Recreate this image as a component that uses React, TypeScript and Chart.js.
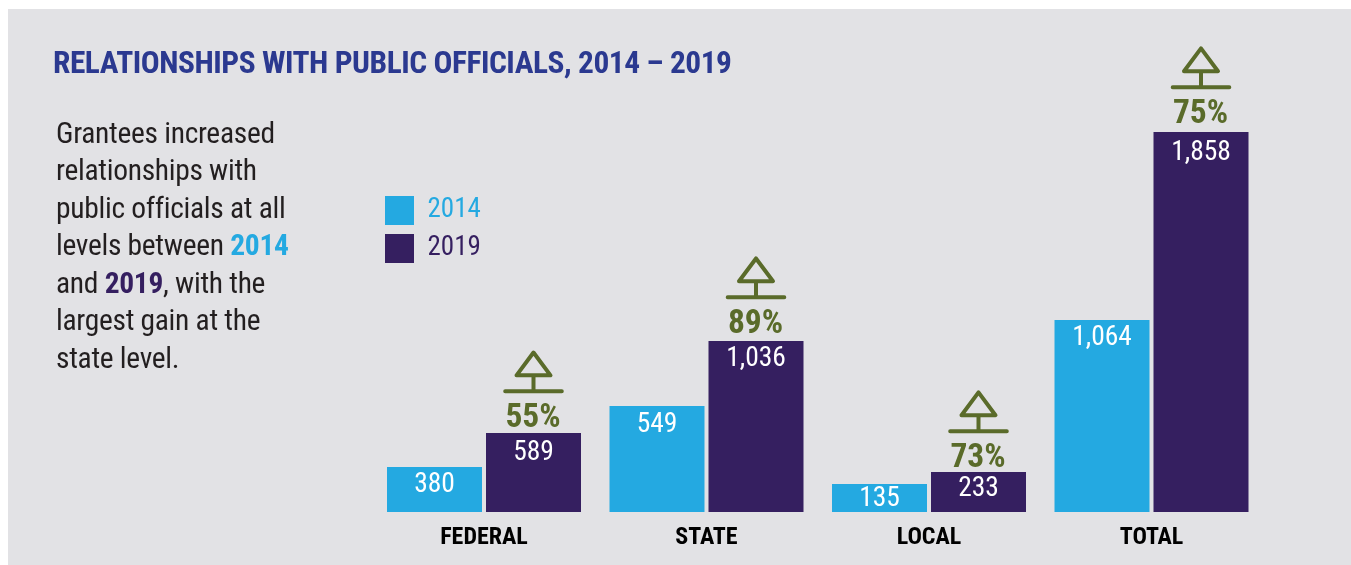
import React, { useEffect, useRef } from "react";
import { Chart, registerables } from "chart.js";

Chart.register(...registerables);

const categories = ["FEDERAL", "STATE", "LOCAL", "TOTAL"];
const seriesNames = ["2014", "2019"];
// Printed figures. The source graphic's bars are not proportional to them
// (549 is drawn taller than 589), so the labels and drawn lengths are kept apart.
const printed2014 = ["380", "549", "135", "1,064"];
const printed2019 = ["589", "1,036", "233", "1,858"];
const changeLabels = ["55%", "89%", "73%", "75%"];
// Bar lengths as drawn in the reference, on the scale of the TOTAL 2019 bar.
const drawn2014 = [220, 518, 137, 939];
const drawn2019 = [386, 836, 196, 1858];

const valueDrop2014 = [25.5, 25.5, 22.5, 25.5];
const valueDrop2019 = [26.5, 25.5, 24.5, 28.5];
const iconDrop = [3, 1, 4, 0];

const FONT = "Roboto";
const BLUE = "#24a9e1";
const PURPLE = "#351f60";
const GREEN = "#5a6b2a";

const paragraphStyle: React.CSSProperties = {
  position: "absolute", left: 56, top: 114.5, width: 300, fontFamily: FONT, fontSize: 29.5, letterSpacing: -0.3,
  lineHeight: "37.5px", color: "#231f20", fontStretch: "condensed", whiteSpace: "nowrap",
};

const overlay = {
  id: "barAnnotations",
  beforeLayout(chart: any) {
    const l = chart.legend;
    if (!l.__wrapped) {
      const fit = l.fit;
      l.fit = function () { fit.call(this); this.width = 0; };
      l.__wrapped = true;
    }
  },
  afterLayout(chart: any) {
    const l = chart.legend;
    l.left = 376; l.right = 700; l.top = 187; l.bottom = 500;
  },
  afterDatasetsDraw(chart: any) {
    const ctx = chart.ctx;
    ctx.save();
    ctx.textAlign = "center";
    ctx.textBaseline = "alphabetic";
    [printed2014, printed2019].forEach((labels, d) => {
      const drop = d === 0 ? valueDrop2014 : valueDrop2019;
      chart.getDatasetMeta(d).data.forEach((bar: any, i: number) => {
        ctx.fillStyle = "#ffffff";
        ctx.font = `condensed 400 27.5px ${FONT}`;
        ctx.fillText(labels[i], bar.x, bar.y + drop[i]);
      });
    });
    chart.getDatasetMeta(1).data.forEach((bar: any, i: number) => {
      const x = bar.x;
      const y = bar.y + iconDrop[i];
      ctx.strokeStyle = GREEN;
      ctx.lineWidth = 4;
      ctx.lineCap = "round";
      ctx.lineJoin = "round";
      ctx.beginPath();
      ctx.moveTo(x, y - 83.5);
      ctx.lineTo(x + 17, y - 60.7);
      ctx.lineTo(x - 17, y - 60.7);
      ctx.closePath();
      ctx.moveTo(x, y - 60.7);
      ctx.lineTo(x, y - 44.7);
      ctx.moveTo(x - 28.3, y - 44.7);
      ctx.lineTo(x + 28.3, y - 44.7);
      ctx.stroke();
      ctx.fillStyle = GREEN;
      ctx.font = `condensed 700 33.5px ${FONT}`;
      ctx.fillText(changeLabels[i], x - 0.5, y - 9.3);
    });
    ctx.restore();
  },
};

export default function App() {
  const ref = useRef<HTMLCanvasElement>(null);
  useEffect(() => {
    const chart = new Chart(ref.current!, {
      type: "bar",
      data: {
        labels: categories,
        datasets: [
          { label: seriesNames[0], data: drawn2014, backgroundColor: BLUE, categoryPercentage: 198 / 222.5, barPercentage: 95 / 99 },
          { label: seriesNames[1], data: drawn2019, backgroundColor: PURPLE, categoryPercentage: 198 / 222.5, barPercentage: 95 / 99 },
        ],
      },
      options: {
        responsive: false,
        animation: false,
        layout: { padding: { left: 372.75, right: 88.25, top: 21, bottom: 0 } },
        scales: {
          x: {
            grid: { display: false },
            border: { display: false },
            ticks: { color: "#000000", font: { family: FONT, weight: "condensed bold", size: 24 }, padding: 4, maxRotation: 0 },
            afterFit(s: any) { s.height = 53; },
          },
          y: { display: false, min: 0, max: 2400 },
        },
        plugins: {
          tooltip: { enabled: false },
          legend: {
            position: "left",
            align: "start",
            labels: {
              boxWidth: 29, boxHeight: 29, padding: 9,
              font: { family: FONT, weight: "condensed", size: 27, lineHeight: 23 / 27 },
              generateLabels: () => [
                { text: seriesNames[0], fillStyle: BLUE, strokeStyle: BLUE, lineWidth: 0, fontColor: BLUE, datasetIndex: 0 },
                { text: seriesNames[1], fillStyle: PURPLE, strokeStyle: PURPLE, lineWidth: 0, fontColor: PURPLE, datasetIndex: 1 },
              ],
            },
          },
        },
      } as any,
      plugins: [overlay],
    });
    return () => chart.destroy();
  }, []);
  return (
    <div style={{ position: "absolute", left: 0, top: 0, width: 1351, height: 565, background: "#fff", overflow: "hidden" }}>
      <div style={{ position: "absolute", left: 8, top: 9, width: 1343, height: 556, background: "#e2e2e5" }} />
      <canvas ref={ref} width={1351} height={565} style={{ position: "absolute", left: 0, top: 0, display: "block" }} />
      <div style={{ position: "absolute", left: 53, top: 44, fontFamily: FONT, fontSize: 31.4, letterSpacing: -0.46, fontWeight: 700, color: "#2b3990", fontStretch: "condensed", whiteSpace: "nowrap" }}>
        RELATIONSHIPS WITH PUBLIC OFFICIALS, 2014 – 2019
      </div>
      <div style={paragraphStyle}>
        Grantees increased<br />relationships with<br />public officials at all<br />
        levels between <b style={{ color: BLUE }}>{seriesNames[0]}</b><br />
        and <b style={{ color: PURPLE }}>{seriesNames[1]}</b>, with the<br />largest gain at the<br />state level.
      </div>
    </div>
  );
}
